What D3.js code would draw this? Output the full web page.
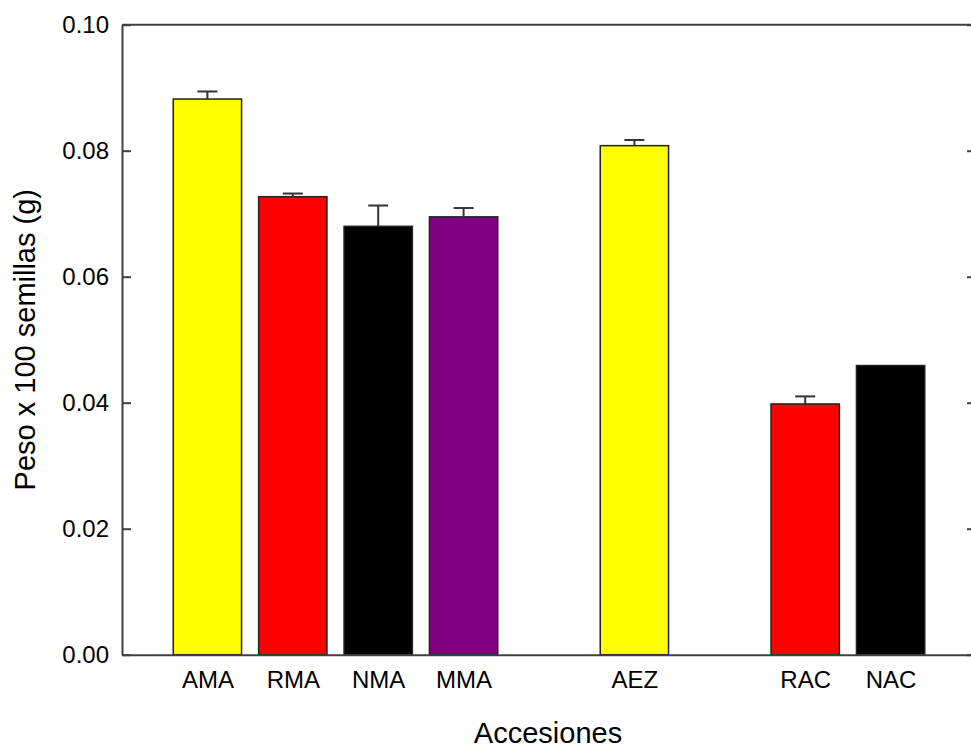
<!DOCTYPE html>
<html>
<head>
<meta charset="utf-8">
<script src="https://cdn.jsdelivr.net/npm/d3@7"></script>
<style>
  body { margin: 0; background: #fff; }
  text { font-family: Arial, "Liberation Sans", sans-serif; fill: #000; }
</style>
</head>
<body>
<script>
var w = 971;
var h = 749;

// data
var categories = ["AMA", "RMA", "NMA", "MMA", "AEZ", "RAC", "NAC"];
var slots = [1, 2, 3, 4, 6, 8, 9]; // category slot on the x axis (gaps between groups)
var means = [0.0882, 0.0727, 0.0680, 0.0695, 0.0808, 0.0398, 0.0459];
var errors = [0.0012, 0.0005, 0.0033, 0.0014, 0.0009, 0.0012, 0];
var yTicks = [0, 0.02, 0.04, 0.06, 0.08, 0.1];

var dataset = [];
for (let i = 0; i < categories.length; i++) {
  dataset.push({ key: categories[i], slot: slots[i], value: means[i], err: errors[i] });
}

var color = d3.scaleOrdinal()
  .domain(categories)
  .range(["#ffff00", "#ff0000", "#000000", "#800080", "#ffff00", "#ff0000", "#000000"]);

// plot frame (right edge sits just past the picture)
var pLeft = 122, pTop = 24.7, pRight = 976, pBottom = 654.7;

var xScale = d3.scaleLinear().domain([0, 10]).range([pLeft, pRight]);
var yScale = d3.scaleLinear().domain([0, 0.1]).range([pBottom, pTop]);
var barW = (xScale(1) - xScale(0)) * 0.8;

var svg = d3.select("body").append("svg").attr("width", w).attr("height", h);

//Bars
svg.append("g")
  .selectAll("rect")
  .data(dataset)
  .enter()
  .append("rect")
  .attr("x", function (d) { return xScale(d.slot) - barW / 2; })
  .attr("y", function (d) { return yScale(d.value); })
  .attr("width", barW)
  .attr("height", function (d) { return yScale(0) - yScale(d.value); })
  .attr("fill", function (d) { return color(d.key); })
  .attr("stroke", "#222")
  .attr("stroke-width", 1.5);

//Error bars (upper only)
var eb = svg.append("g")
  .attr("stroke", "#333")
  .attr("stroke-width", 2)
  .selectAll("g")
  .data(dataset.filter(function (d) { return d.err > 0; }))
  .enter()
  .append("g");
eb.append("line")
  .attr("x1", function (d) { return xScale(d.slot); })
  .attr("x2", function (d) { return xScale(d.slot); })
  .attr("y1", function (d) { return yScale(d.value); })
  .attr("y2", function (d) { return yScale(d.value + d.err); });
eb.append("line")
  .attr("x1", function (d) { return xScale(d.slot) - 10; })
  .attr("x2", function (d) { return xScale(d.slot) + 10; })
  .attr("y1", function (d) { return yScale(d.value + d.err); })
  .attr("y2", function (d) { return yScale(d.value + d.err); });

//Axes
var yAxis = d3.axisLeft(yScale)
  .tickValues(yTicks)
  .tickFormat(d3.format(".2f"))
  .tickSizeInner(-9)
  .tickSizeOuter(0)
  .tickPadding(13);
var gy = svg.append("g").attr("class", "axis").attr("transform", "translate(" + pLeft + ",0)").call(yAxis);
gy.selectAll("text").attr("font-size", "24px").attr("font-family", null).attr("fill", "#000");

svg.append("g").attr("class", "axis").attr("transform", "translate(" + pRight + ",0)")
  .call(d3.axisRight(yScale).tickValues(yTicks).tickSizeInner(-9).tickSizeOuter(0).tickFormat(""));

var xAxis = d3.axisBottom(xScale)
  .tickValues(slots)
  .tickFormat(function (d, i) { return categories[i]; })
  .tickSizeInner(0)
  .tickSizeOuter(0)
  .tickPadding(16);
var gx = svg.append("g").attr("class", "axis").attr("transform", "translate(0," + pBottom + ")").call(xAxis);
gx.selectAll("text").attr("font-size", "24px").attr("font-family", null).attr("fill", "#000");

svg.append("line")
  .attr("class", "frame")
  .attr("x1", pLeft).attr("x2", pRight)
  .attr("y1", pTop).attr("y2", pTop);

svg.selectAll(".axis path.domain, .axis .tick line, line.frame")
  .attr("stroke", "#404040")
  .attr("stroke-width", 2);

//Axis titles
svg.append("text")
  .attr("x", 548)
  .attr("y", 743)
  .attr("text-anchor", "middle")
  .attr("font-size", "29px")
  .text("Accesiones");

svg.append("text")
  .attr("transform", "translate(35," + (pTop + pBottom) / 2 + ") rotate(-90)")
  .attr("text-anchor", "middle")
  .attr("font-size", "29px")
  .text("Peso x 100 semillas (g)");
</script>
</body>
</html>
